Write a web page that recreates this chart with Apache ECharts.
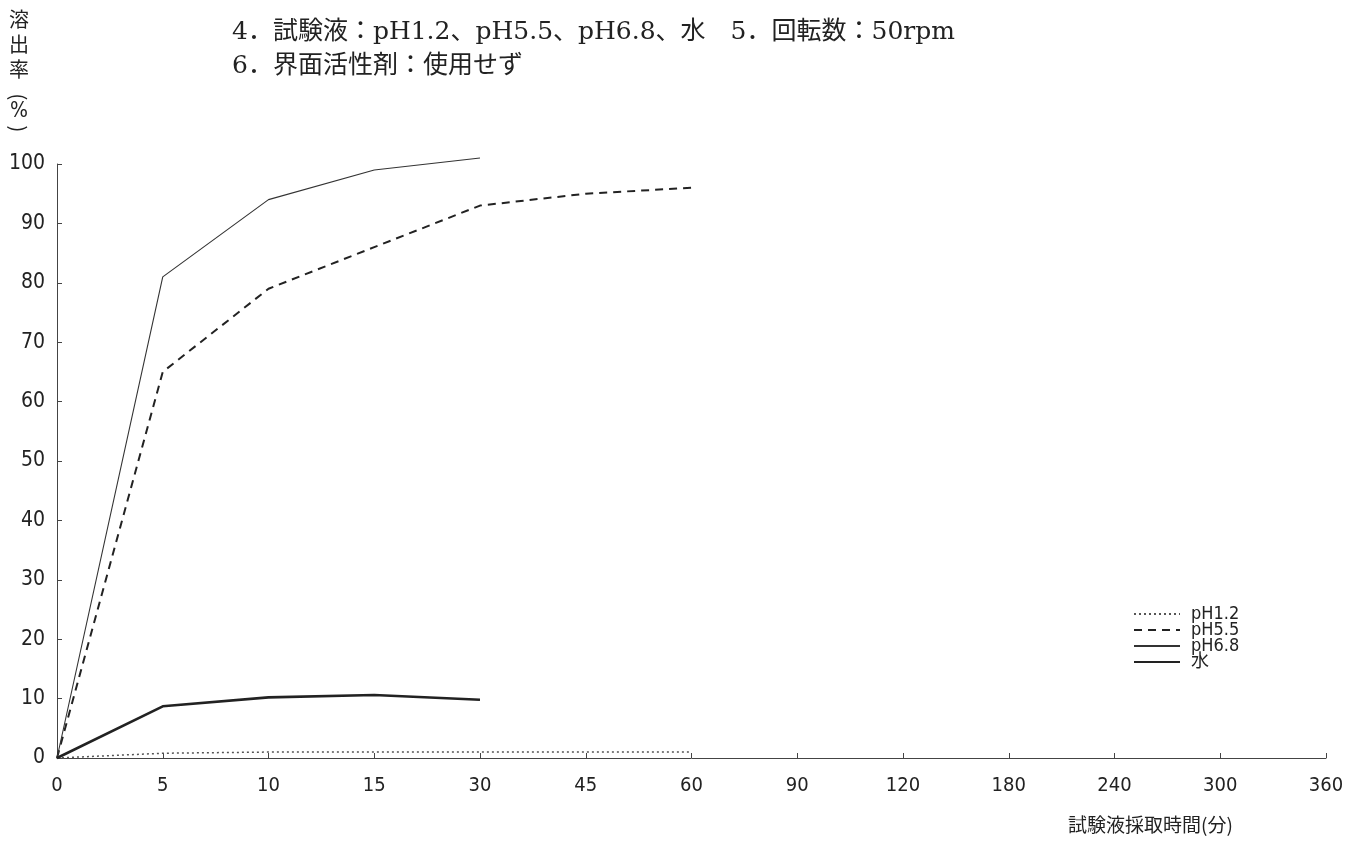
<!DOCTYPE html>
<html><head><meta charset="utf-8">
<script src="https://cdn.jsdelivr.net/npm/echarts@6/dist/echarts.min.js"></script>
<style>html,body{margin:0;padding:0;background:#fff}#c{width:1364px;height:842px}</style>
</head><body><div id="c"></div>
<script>
const categories = ['0','5','10','15','30','45','60','90','120','180','240','300','360'];
const pH12 = [0, 0.8, 1, 1, 1, 1, 1];
const pH55 = [0, 65, 79, 86, 93, 95, 96];
const pH68 = [0, 81, 94, 99, 101];
const water = [0, 8.7, 10.2, 10.6, 9.8];
const yTicks = [0,10,20,30,40,50,60,70,80,90,100];
const header1 = '4．試験液：pH1.2、pH5.5、pH6.8、水　5．回転数：50rpm';
const header2 = '6．界面活性剤：使用せず';
const yTitleChars = ['溶','出','率'];
const xTitle = '試験液採取時間(分)';

const labelFont = '"Liberation Sans Narrow","DejaVu Sans Condensed","Noto Sans CJK JP",sans-serif';
const serifFont = '"DejaVu Serif","Noto Sans CJK JP",serif';
const ink = '#222';

const yTitleGraphics = [];
yTitleChars.forEach((ch, i) => {
  yTitleGraphics.push({ type: 'text', x: 19, y: 19 + i * 25,
    style: { text: ch, fill: ink, font: '20px "Noto Sans CJK JP"', align: 'center', verticalAlign: 'middle' } });
});
yTitleGraphics.push({ type: 'text', x: 19, y: 97, rotation: -Math.PI / 2,
  style: { text: '(', fill: ink, font: '20px "Noto Sans CJK JP"', align: 'center', verticalAlign: 'middle' } });
yTitleGraphics.push({ type: 'text', x: 19, y: 112,
  style: { text: '%', fill: ink, font: '21px "DejaVu Sans Condensed"', align: 'center', verticalAlign: 'middle' } });
yTitleGraphics.push({ type: 'text', x: 19, y: 129, rotation: -Math.PI / 2,
  style: { text: ')', fill: ink, font: '20px "Noto Sans CJK JP"', align: 'center', verticalAlign: 'middle' } });

const chart = echarts.init(document.getElementById('c'));
chart.setOption({
  animation: false,
  backgroundColor: '#fff',
  grid: { left: 57, right: 38, top: 164, bottom: 84, containLabel: false },
  xAxis: {
    type: 'category', data: categories, boundaryGap: false,
    axisLine: { lineStyle: { color: '#444', width: 1 } },
    axisTick: { inside: true, length: 5, lineStyle: { color: '#444' } },
    axisLabel: { color: ink, fontSize: 20, fontFamily: labelFont, margin: 18 },
    splitLine: { show: false }
  },
  yAxis: {
    type: 'value', min: 0, max: 100, interval: 10,
    axisLine: { show: true, lineStyle: { color: '#444', width: 1 } },
    axisTick: { show: true, inside: true, length: 5, lineStyle: { color: '#444' } },
    axisLabel: { color: ink, fontSize: 21, fontFamily: labelFont, margin: 12,
      formatter: v => yTicks.includes(v) ? String(v) : '' },
    splitLine: { show: false }
  },
  legend: {
    left: 1128, top: 600, orient: 'vertical', itemGap: -2,
    itemWidth: 46, itemHeight: 10,
    itemStyle: { color: 'rgba(0,0,0,0)', borderWidth: 0, opacity: 0 },
    textStyle: { color: ink, fontSize: 18, fontFamily: labelFont, padding: [0,0,0,6] },
    data: ['pH1.2','pH5.5','pH6.8','水']
  },
  series: [
    { name: 'pH1.2', type: 'line', data: pH12, symbol: 'none', clip: false,
      lineStyle: { color: '#555', width: 1.5, type: [2,3] }, itemStyle: { color: '#555' } },
    { name: 'pH5.5', type: 'line', data: pH55, symbol: 'none', clip: false,
      lineStyle: { color: ink, width: 2, type: [8,6] }, itemStyle: { color: ink } },
    { name: 'pH6.8', type: 'line', data: pH68, symbol: 'none', clip: false,
      lineStyle: { color: '#333', width: 1.1 }, itemStyle: { color: '#333' } },
    { name: '水', type: 'line', data: water, symbol: 'none', clip: false,
      lineStyle: { color: ink, width: 2.6 }, itemStyle: { color: ink } }
  ],
  graphic: [
    { type: 'text', left: 232, top: 20, style: { text: header1, fill: ink, font: '25px ' + serifFont } },
    { type: 'text', left: 232, top: 54, style: { text: header2, fill: ink, font: '25px ' + serifFont } },
    ...yTitleGraphics,
    { type: 'text', left: 1068, top: 815, style: { text: xTitle, fill: ink, font: '19px "Noto Sans CJK JP"' } }
  ]
});
</script></body></html>
